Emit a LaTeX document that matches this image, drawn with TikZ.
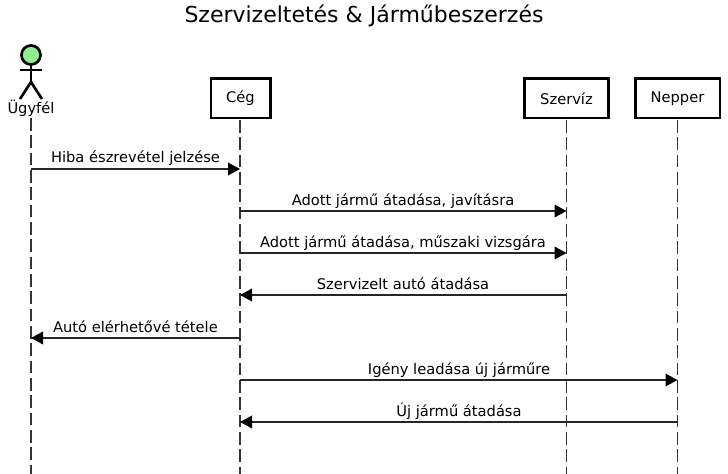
\documentclass[tikz,border=0pt]{standalone}
\usepackage{fontspec}
\setmainfont{DejaVu Sans}
\usetikzlibrary{arrows.meta}
\definecolor{headgreen}{HTML}{90EE90}
\tikzset{
  px/.style={x=0.75pt,y=-0.75pt},
  actorbox/.style={draw=black,line width=2pt,fill=white,minimum height=29.5pt,inner sep=0pt,font=\fontsize{11}{13}\selectfont,text=black},
  lifeline/.style={draw=black!80,line width=1pt,dash pattern=on 9.5pt off 3.5pt},
  msg/.style={draw=black!85,line width=1pt,-{Triangle[length=9pt,width=9.5pt,color=black]}},
  lbl/.style={font=\fontsize{11}{13}\selectfont,text=black,inner sep=0pt,anchor=base},
  limb/.style={draw=black,line width=2pt}
}
\begin{document}
\begin{tikzpicture}[px]
\useasboundingbox (0,0) rectangle (728,474);
\fill[white] (0,0) rectangle (728,474);
\node[font=\fontsize{16.5}{20}\selectfont,inner sep=0pt,anchor=base] (title) at (364,23) {Szervizeltetés \& Járműbeszerzés};
\node[actorbox,minimum width=44.5pt] (ceg) at (240.5,98.5) {Cég};
\node[actorbox,minimum width=63pt] (szerviz) at (566.5,98.5) {Szervíz};
\node[actorbox,minimum width=63.5pt] (nepper) at (677.5,98.5) {Nepper};
\coordinate (ub) at (31,118); \coordinate (ue) at (31,474);
\coordinate (ce) at (240,474); \coordinate (se) at (566.5,474); \coordinate (ne) at (677.5,474);
\draw[lifeline] (ub) -- (ue);
\draw[lifeline] (240,120) -- (ce);
\draw[lifeline] (566.5,120) -- (se);
\draw[lifeline] (677.5,120) -- (ne);
\node[draw=black,line width=2pt,circle,fill=headgreen,minimum size=14.3pt,inner sep=0pt,outer sep=0pt] (head) at (31,55) {};
\coordinate (hip) at (31,82);
\coordinate (armL) at (20,70); \coordinate (armR) at (42,70);
\coordinate (legL) at (20,99); \coordinate (legR) at (42,99);
\draw[limb] (head.south) -- (hip);
\draw[limb] (armL) -- (armR);
\draw[limb] (legL) -- (hip) -- (legR);
\node[lbl] (ugyfel) at (31,114) {Ügyfél};
\draw[msg] (31,169) -- (240,169);
\node[lbl] (m1) at (135.5,163) {Hiba észrevétel jelzése};
\draw[msg] (240,211) -- (566.5,211);
\node[lbl] (m2) at (403,205) {Adott jármű átadása, javításra};
\draw[msg] (240,253) -- (566.5,253);
\node[lbl] (m3) at (403,247) {Adott jármű átadása, műszaki vizsgára};
\draw[msg] (566.5,295) -- (240,295);
\node[lbl] (m4) at (403,289) {Szervizelt autó átadása};
\draw[msg] (240,338) -- (31,338);
\node[lbl] (m5) at (135.5,332) {Autó elérhetővé tétele};
\draw[msg] (240,380) -- (677.5,380);
\node[lbl] (m6) at (459,374) {Igény leadása új járműre};
\draw[msg] (677.5,422) -- (240,422);
\node[lbl] (m7) at (459,416) {Új jármű átadása};
\end{tikzpicture}
\end{document}
